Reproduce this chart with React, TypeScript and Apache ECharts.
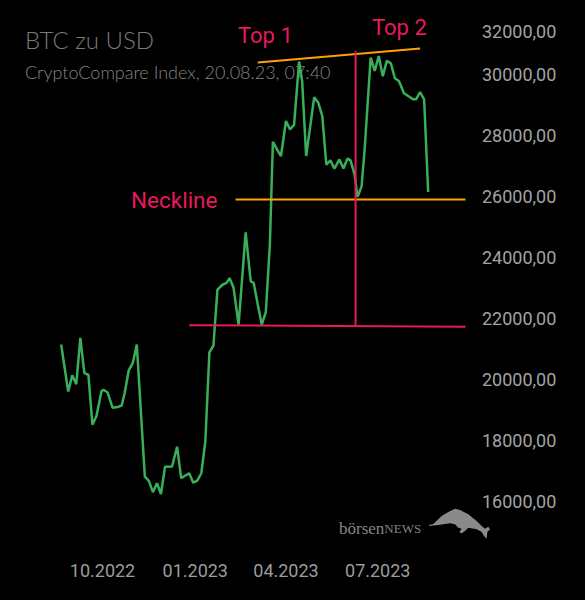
import React, { useEffect, useRef } from 'react';
import * as echarts from 'echarts';

const dates: string[] = [
  '2022-08-21', '2022-08-28', '2022-09-01', '2022-09-05', '2022-09-09', '2022-09-13', '2022-09-17', '2022-09-21',
  '2022-09-25', '2022-09-30', '2022-10-02', '2022-10-06', '2022-10-11', '2022-10-16', '2022-10-20', '2022-10-23',
  '2022-10-27', '2022-10-31', '2022-11-04', '2022-11-12', '2022-11-16', '2022-11-20', '2022-11-24', '2022-11-28',
  '2022-12-02', '2022-12-09', '2022-12-14', '2022-12-18', '2022-12-26', '2022-12-30', '2023-01-03', '2023-01-07',
  '2023-01-11', '2023-01-15', '2023-01-19', '2023-01-23', '2023-01-28', '2023-02-01', '2023-02-04', '2023-02-08',
  '2023-02-13', '2023-02-20', '2023-02-25', '2023-02-28', '2023-03-04', '2023-03-08', '2023-03-12', '2023-03-16',
  '2023-03-19', '2023-03-23', '2023-03-27', '2023-04-01', '2023-04-05', '2023-04-09', '2023-04-14', '2023-04-17',
  '2023-04-21', '2023-04-29', '2023-05-03', '2023-05-07', '2023-05-11', '2023-05-15', '2023-05-19', '2023-05-24',
  '2023-05-28', '2023-06-01', '2023-06-04', '2023-06-08', '2023-06-11', '2023-06-15', '2023-06-18', '2023-06-24',
  '2023-06-28', '2023-07-02', '2023-07-06', '2023-07-10', '2023-07-14', '2023-07-18', '2023-07-22', '2023-07-27',
  '2023-08-01', '2023-08-05', '2023-08-08', '2023-08-12', '2023-08-16', '2023-08-20',
];

const prices: number[] = [
  21130, 19590, 20120, 19830, 21350, 20190, 20140, 18500,
  18790, 19600, 19650, 19560, 19060, 19080, 19130, 19540,
  20280, 20520, 21130, 16800, 16660, 16290, 16580, 16230,
  17120, 17130, 17780, 16750, 16910, 16600, 16670, 16910,
  17950, 20870, 21090, 22930, 23090, 23150, 23310, 22990,
  21780, 24810, 23200, 23150, 22440, 21780, 22200, 24410,
  27780, 27530, 27310, 28460, 28180, 28330, 30410, 29770,
  27310, 29240, 29060, 28620, 27030, 27170, 26900, 27200,
  26900, 27230, 27170, 26710, 25970, 26320, 27530, 30540,
  30100, 30590, 29930, 30430, 30350, 29860, 29770, 29370,
  29260, 29170, 29170, 29410, 29170, 26130,
];

// pattern annotation lines
const topLineDates = ['2023-03-04', '2023-08-12'];
const topLineValues = [30380, 30840];
const necklineDates = ['2023-02-10', '2023-09-26'];
const necklineValues = [25885, 25885];
const supportDates = ['2022-12-26', '2023-09-26'];
const supportValues = [21763, 21714];
const verticalDates = ['2023-06-09', '2023-06-09'];
const verticalValues = [21740, 30745];

const xLabelMonths = [0, 3, 6, 9];
const xLabelLastDate = '2023-07-01';
const xMinDate = '2022-08-01';
const xMaxDate = '2023-10-01';
const yMin = 16000;
const yMax = 32000;
const yInterval = 2000;

const titleText = 'BTC zu USD';
const subtitleText = 'CryptoCompare Index, 20.08.23, 07:40';
const annotationTexts = ['Top 1', 'Top 2', 'Neckline'];

const DAY = 86400000;
const toTs = (s: string) => {
  const [y, m, d] = s.split('-').map(Number);
  return Date.UTC(y, m - 1, d);
};
const pairs = (ds: string[], vs: number[]) => ds.map((d, i) => [toTs(d), vs[i]]);

const bullPath =
  'M-1,19 L3.3,18 L11.7,10 L18.3,6 L25,2.7 L30,4 L38.3,8.3 L46.7,15 L51.7,20 L55,22.7 L58.3,20.7 L60,23.3 L57.3,26 ' +
  'L56.7,32.7 L54,30 L51.7,26 L46.7,23.3 L38.3,21.7 L35,25 L31.7,27.3 L29.3,26 L31.7,22.7 L28.3,21.7 L25,18.3 ' +
  'L20,17.3 L13.3,18.3 L6.7,19.3 L3,19.5 L-1,20 Z';

let registered = false;

export default function App() {
  const ref = useRef<HTMLDivElement>(null);
  useEffect(() => {
    if (!ref.current) return;
    if (!registered) {
      echarts.graphic.registerShape('bull', (echarts.graphic as any).extendPath(bullPath, {}));
      registered = true;
    }
    const chart = echarts.init(ref.current, undefined, { renderer: 'svg' });
    const pink = '#e8195d';
    const orange = '#ffa200';
    const lastLabelTs = toTs(xLabelLastDate);
    const annLine = (name: string, ds: string[], vs: number[], color: string) => ({
      name,
      type: 'line',
      data: pairs(ds, vs),
      symbol: 'none',
      clip: false,
      silent: true,
      lineStyle: { color, width: 2 },
      z: 5,
    });
    chart.setOption({
      animation: false,
      backgroundColor: '#000',
      useUTC: true,
      grid: { left: 41, right: 114.5, top: 13, bottom: 99, outerBoundsMode: 'none', containLabel: false },
      xAxis: {
        type: 'time',
        min: toTs(xMinDate),
        max: toTs(xMaxDate),
        splitNumber: 4,
        minInterval: 91 * DAY,
        axisLine: { show: false },
        axisTick: { show: false },
        splitLine: { show: false },
        axisLabel: {
          margin: 60,
          color: '#9c9c9c',
          fontSize: 18,
          fontFamily: 'Roboto',
          hideOverlap: false,
          formatter: (v: number) => {
            const d = new Date(v);
            if (v > lastLabelTs || d.getUTCDate() !== 1 || d.getUTCHours() !== 0 || !xLabelMonths.includes(d.getUTCMonth())) return '';
            const mm = String(d.getUTCMonth() + 1).padStart(2, '0');
            return `${mm}.${d.getUTCFullYear()}`;
          },
        },
      },
      yAxis: {
        type: 'value',
        position: 'right',
        min: yMin,
        max: yMax,
        interval: yInterval,
        axisLine: { show: false },
        axisTick: { show: false },
        splitLine: { show: false },
        axisLabel: {
          margin: 11.5,
          color: '#a3a3a3',
          fontSize: 18,
          lineHeight: 18,
          fontFamily: 'Roboto',
          formatter: (v: number) => {
            const s = v.toFixed(2).replace('.', ',');
            return v === yMax ? `\n\n${s}` : s;
          },
        },
      },
      graphic: [
        {
          type: 'text', x: 25, y: 39,
          style: { text: titleText, fill: '#7a7a7a', fontSize: 24, fontWeight: 300, fontFamily: 'Lato', verticalAlign: 'middle' },
        },
        {
          type: 'text', x: 25, y: 72,
          style: { text: subtitleText, fill: '#858585', fontSize: 18, fontWeight: 300, fontFamily: 'Lato', verticalAlign: 'middle' },
        },
        {
          type: 'text', x: 238, y: 35,
          style: { text: annotationTexts[0], fill: pink, fontSize: 22, fontFamily: 'Roboto', verticalAlign: 'middle' },
        },
        {
          type: 'text', x: 372, y: 27,
          style: { text: annotationTexts[1], fill: pink, fontSize: 22, fontFamily: 'Roboto', verticalAlign: 'middle' },
        },
        {
          type: 'text', x: 131, y: 200,
          style: { text: annotationTexts[2], fill: pink, fontSize: 22.5, fontFamily: 'Roboto', verticalAlign: 'middle' },
        },
        {
          type: 'text', x: 339, y: 528,
          style: {
            text: '{a|börsen}{b|NEWS}',
            verticalAlign: 'middle',
            rich: {
              a: { fontSize: 17, fontFamily: 'Liberation Serif', fill: '#858585' },
              b: { fontSize: 13, fontFamily: 'Liberation Serif', fill: '#858585' },
            },
          },
        },
        {
          type: 'bull', x: 430, y: 506,
          style: { fill: '#8a8a8a' },
        },
      ],
      series: [
        {
          name: 'BTC',
          type: 'line',
          data: pairs(dates, prices),
          symbol: 'none',
          lineStyle: { color: '#38b05a', width: 2.5 },
          z: 3,
        },
        annLine('top', topLineDates, topLineValues, orange),
        annLine('neckline', necklineDates, necklineValues, orange),
        annLine('support', supportDates, supportValues, pink),
        annLine('vertical', verticalDates, verticalValues, pink),
      ],
    });
    return () => chart.dispose();
  }, []);
  return (
    <div
      ref={ref}
      style={{ position: 'absolute', left: 0, top: 0, width: 585, height: 600, background: '#000' }}
    />
  );
}
